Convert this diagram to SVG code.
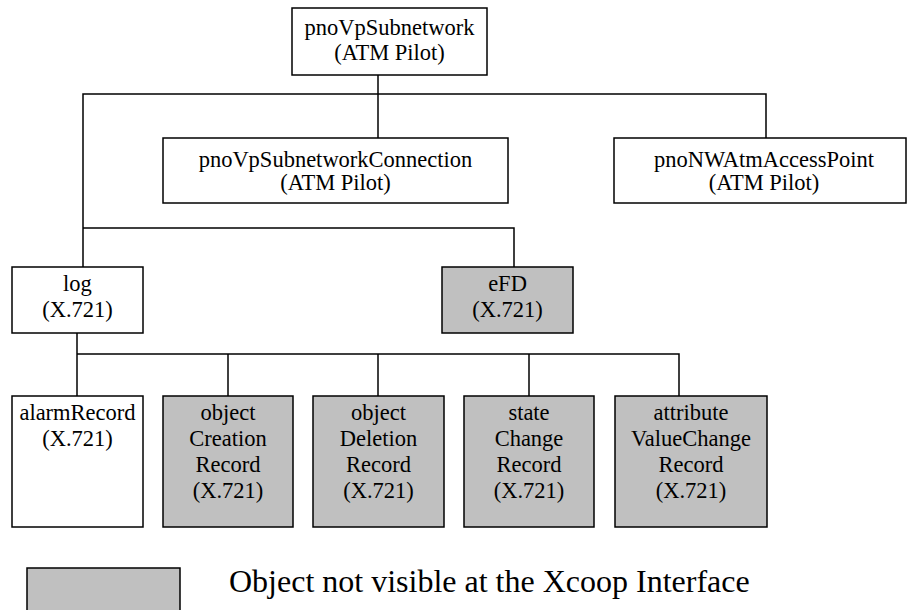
<svg xmlns="http://www.w3.org/2000/svg" width="907" height="610" viewBox="0 0 907 610">
<style>
.box{fill:#ffffff;stroke:#000;stroke-width:1.5}
.grey{fill:#c0c0c0;stroke:#000;stroke-width:1.5}
text{font-family:'Liberation Serif','Tinos','DejaVu Serif',serif;fill:#000}
.lbl{font-size:22.5px;text-anchor:middle}
.leg{font-size:32px}
.conn{fill:none;stroke:#000;stroke-width:1.5}
</style>
<rect width="907" height="610" fill="#ffffff"/>
<g id="connectors" class="conn">
<path d="M378 75V138"/>
<path d="M83 267V94H766V138"/>
<path d="M83 228H514V267"/>
<path d="M77 333V396"/>
<path d="M77 354H679V396"/>
<path d="M228 354V396"/>
<path d="M378 354V396"/>
<path d="M529 354V396"/>
</g>
<g id="pnoVpSubnetwork">
<rect class="box" x="292" y="8" width="195" height="67"/>
<text class="lbl" x="389.5" y="35">pnoVpSubnetwork</text>
<text class="lbl" x="389.5" y="60">(ATM Pilot)</text>
</g>
<g id="pnoVpSubnetworkConnection">
<rect class="box" x="163" y="138" width="345" height="65"/>
<text class="lbl" x="335.5" y="167">pnoVpSubnetworkConnection</text>
<text class="lbl" x="335.5" y="190">(ATM Pilot)</text>
</g>
<g id="pnoNWAtmAccessPoint">
<rect class="box" x="614" y="138" width="292" height="65"/>
<text class="lbl" x="764" y="167">pnoNWAtmAccessPoint</text>
<text class="lbl" x="764" y="190">(ATM Pilot)</text>
</g>
<g id="log">
<rect class="box" x="12" y="267" width="131" height="66"/>
<text class="lbl" x="77.5" y="291">log</text>
<text class="lbl" x="77.5" y="317">(X.721)</text>
</g>
<g id="eFD">
<rect class="grey" x="442" y="267" width="131" height="66"/>
<text class="lbl" x="507.5" y="291">eFD</text>
<text class="lbl" x="507.5" y="317">(X.721)</text>
</g>
<g id="alarmRecord">
<rect class="box" x="12" y="396" width="131" height="131"/>
<text class="lbl" x="77.5" y="420">alarmRecord</text>
<text class="lbl" x="77.5" y="446">(X.721)</text>
</g>
<g id="objectCreationRecord">
<rect class="grey" x="163" y="396" width="130" height="131"/>
<text class="lbl" x="228" y="420">object</text>
<text class="lbl" x="228" y="446">Creation</text>
<text class="lbl" x="228" y="472">Record</text>
<text class="lbl" x="228" y="498">(X.721)</text>
</g>
<g id="objectDeletionRecord">
<rect class="grey" x="313" y="396" width="131" height="131"/>
<text class="lbl" x="378.5" y="420">object</text>
<text class="lbl" x="378.5" y="446">Deletion</text>
<text class="lbl" x="378.5" y="472">Record</text>
<text class="lbl" x="378.5" y="498">(X.721)</text>
</g>
<g id="stateChangeRecord">
<rect class="grey" x="464" y="396" width="130" height="131"/>
<text class="lbl" x="529" y="420">state</text>
<text class="lbl" x="529" y="446">Change</text>
<text class="lbl" x="529" y="472">Record</text>
<text class="lbl" x="529" y="498">(X.721)</text>
</g>
<g id="attributeValueChangeRecord">
<rect class="grey" x="615" y="396" width="152" height="131"/>
<text class="lbl" x="691" y="420">attribute</text>
<text class="lbl" x="691" y="446">ValueChange</text>
<text class="lbl" x="691" y="472">Record</text>
<text class="lbl" x="691" y="498">(X.721)</text>
</g>
<g id="legend">
<rect class="grey" x="27" y="568" width="153" height="50"/>
<text class="leg" x="229" y="592">Object not visible at the Xcoop Interface</text>
</g>
</svg>
